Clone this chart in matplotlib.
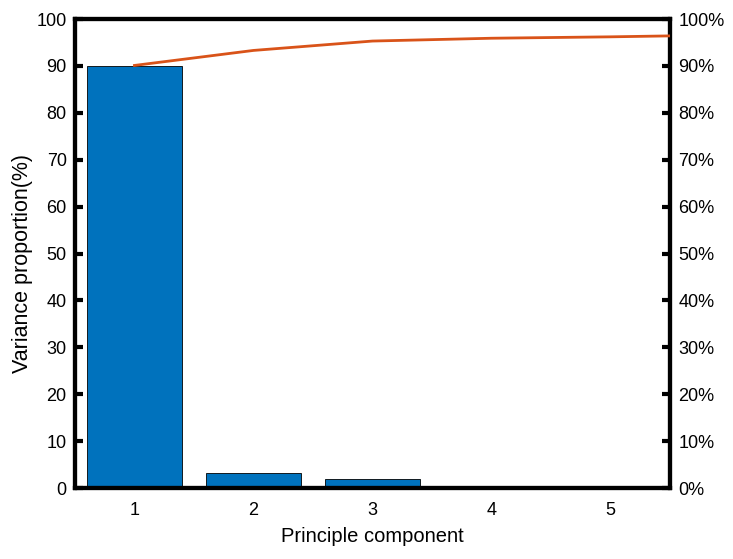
import numpy as np
import matplotlib.pyplot as plt
from matplotlib.ticker import FuncFormatter

plt.rcParams['font.family'] = ['Liberation Sans', 'DejaVu Sans']

# data
components = [1, 2, 3]
variance = [90.0, 3.2, 1.9]
cum_x = [1, 2, 3, 4, 5, 6]
cum_pct = [90.1, 93.3, 95.3, 95.9, 96.2, 96.6]
xticks = [1, 2, 3, 4, 5]

matblue = '#0072BD'
matorange = '#D95319'

fig = plt.figure(figsize=(7.33, 5.59), dpi=100)
ax = fig.add_axes([0.1023, 0.127, 0.8117, 0.839])

ax.bar(components, variance, width=0.8, color=matblue, edgecolor='black', linewidth=0.6, zorder=2)
ax.set_xlim(0.5, 5.5)
ax.set_ylim(0, 100)
ax.set_yticks(np.arange(0, 101, 10))
ax.set_xticks(xticks)
ax.set_xlabel('Principle component', fontsize=14.5, labelpad=6)
ax.set_ylabel('Variance proportion(%)', fontsize=15.5)
ax.yaxis.set_label_coords(-0.071, 0.478)

ax2 = ax.twinx()
ax2.plot(cum_x, cum_pct, color=matorange, linewidth=2, zorder=3)
ax2.set_ylim(0, 100)
ax2.set_yticks(np.arange(0, 101, 10))
ax2.yaxis.set_major_formatter(FuncFormatter(lambda v, p: '%d%%' % v))
ax2.set_xlim(0.5, 5.5)

for a in (ax, ax2):
    for s in a.spines.values():
        s.set_linewidth(3)
    a.tick_params(labelsize=13, direction='in', width=3, length=6)
ax.tick_params(axis='x', length=0, pad=10)
ax.tick_params(axis='y', pad=6)
ax2.tick_params(axis='y', pad=6)

fig.savefig('out.png', dpi=100)
